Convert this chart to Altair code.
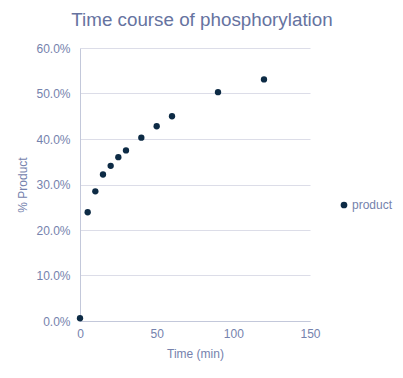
import altair as alt
import pandas as pd

time_min = [0, 5, 10, 15, 20, 25, 30, 40, 50, 60, 90, 120]
product = [0.006, 0.239, 0.285, 0.322, 0.341, 0.360, 0.375, 0.403, 0.428, 0.450, 0.503, 0.531]
series = ["product"] * len(time_min)

df = pd.DataFrame({"Time": time_min, "Product": product, "series": series})

label_col = "#7582ad"
font = "Liberation Sans"

chart = alt.Chart(df).mark_circle(size=40, opacity=1).encode(
    x=alt.X("Time:Q", scale=alt.Scale(domain=[0, 150], nice=False),
            axis=alt.Axis(values=[0, 50, 100, 150], title="Time (min)", grid=False,
                          ticks=False, labelPadding=7, titlePadding=9, labelFlush=False,
                          domainColor="#c3c8da", labelColor=label_col, titleColor=label_col,
                          labelFontSize=12, titleFontSize=12, labelFont=font, titleFont=font,
                          titleFontWeight="normal")),
    y=alt.Y("Product:Q", scale=alt.Scale(domain=[0, 0.6], nice=False),
            axis=alt.Axis(values=[0, 0.1, 0.2, 0.3, 0.4, 0.5, 0.6], format=".1%", title="% Product",
                          ticks=False, labelPadding=10, titlePadding=6, labelFlush=False,
                          gridColor="#dcdde8",
                          domainColor="#c3c8da", labelColor=label_col, titleColor=label_col,
                          labelFontSize=12, titleFontSize=12, labelFont=font, titleFont=font,
                          titleFontWeight="normal")),
    color=alt.Color("series:N", scale=alt.Scale(range=["#0d2b45"]),
                    legend=alt.Legend(title=None, orient="none", legendX=258, legendY=151,
                                      symbolSize=45, labelFontSize=12, labelColor=label_col,
                                      labelFont=font, symbolType="circle", labelOffset=2)),
).properties(
    width=230, height=273,
    autosize=alt.AutoSizeParams(type="none"),
    padding={"left": 72, "top": 40, "right": 85, "bottom": 49},
    title=alt.Title("Time course of phosphorylation", fontSize=18.8, font=font,
                    color="#66739f", fontWeight="normal", anchor="middle", dx=7, offset=12),
).configure_view(strokeWidth=0)

chart.save("out.html", embed_options={"renderer": "svg", "actions": False})
